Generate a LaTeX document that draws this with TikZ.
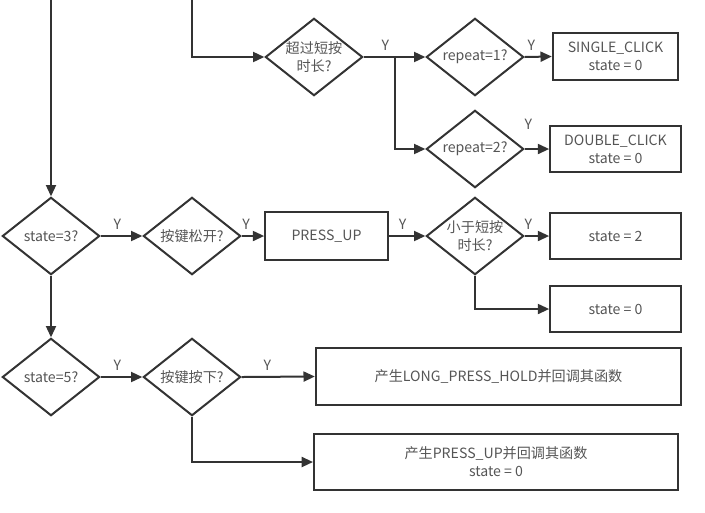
\documentclass[tikz,border=0pt]{standalone}
\usepackage{fontspec}
\setmainfont{Noto Sans CJK SC}
\usetikzlibrary{arrows.meta,shapes.geometric}
\definecolor{linegray}{HTML}{333333}
\definecolor{textgray}{HTML}{555555}
\tikzset{
  cond/.style={draw=linegray, line width=1.5pt, diamond, aspect=1.26, inner sep=0pt,
    minimum width=73pt, minimum height=58pt, text=textgray, align=center},
  act/.style={draw=linegray, line width=1.5pt, rectangle, inner sep=0pt, text=textgray, align=center},
  flow/.style={draw=linegray, line width=1.5pt, -{Triangle[length=8.5pt,width=7.5pt]}},
  yes/.style={text=textgray, above=4pt, inner sep=0pt}
}

\begin{document}
\begin{tikzpicture}[x=0.75pt,y=-0.75pt,font=\fontsize{10.6}{13.5}\selectfont]
\useasboundingbox (0,0) rectangle (705,512);
% decisions
\node[cond] (longq) at (314,57) {超过短按\\时长?};
\node[cond] (rep1) at (475,57) {repeat=1?};
\node[cond] (rep2) at (475,149) {repeat=2?};
\node[cond] (s3) at (51,236) {state=3?};
\node[cond] (rel) at (192,236) {按键松开?};
\node[cond] (shortq) at (475,236) {小于短按\\时长?};
\node[cond] (s5) at (51,377) {state=5?};
\node[cond] (press) at (192,377) {按键按下?};
% actions
\node[act, minimum width=94pt, minimum height=35pt] (single) at (615.5,56.5) {SINGLE\_CLICK\\state = 0};
\node[act, minimum width=98pt, minimum height=34.5pt] (double) at (615.5,149) {DOUBLE\_CLICK\\state = 0};
\node[act, minimum width=92pt, minimum height=36pt] (pup) at (326.5,236) {PRESS\_UP};
\node[act, minimum width=98pt, minimum height=34.5pt] (st2) at (615.5,236) {state = 2};
\node[act, minimum width=98pt, minimum height=34.5pt] (st0) at (615.5,309) {state = 0};
\node[act, minimum width=274pt, minimum height=43pt] (hold) at (498.5,376.5) {产生LONG\_PRESS\_HOLD并回调其函数};
\node[act, minimum width=273pt, minimum height=42pt] (upcb) at (496,462) {产生PRESS\_UP并回调其函数\\state = 0};
% free ends
\coordinate (topL) at (51,0);
\coordinate (topM) at (192,0);
\coordinate (br) at (395,57);
% connectors
\draw[flow] (topL) -- (s3.north);
\draw[flow] (topM) |- (longq.west);
\draw[flow] (longq.east) -- node[yes, pos=0.35] {Y} (rep1.west);
\draw[flow] (br) |- (rep2.west);
\draw[flow] (rep1.east) -- node[yes, pos=0.25] {Y} (single.west);
\draw[flow] (rep2.east) -- node[yes, above=10pt, pos=0.15] {Y} (double.west);
\draw[flow] (s3.east) -- node[yes, pos=0.4] {Y} (rel.west);
\draw[flow] (rel.east) -- node[yes, pos=0.2] {Y} (pup.west);
\draw[flow] (pup.east) -- node[yes, pos=0.38] {Y} (shortq.west);
\draw[flow] (shortq.east) -- node[yes, pos=0.15] {Y} (st2.west);
\draw[flow] (shortq.south) |- (st0.west);
\draw[flow] (s3.south) -- (s5.north);
\draw[flow] (s5.east) -- node[yes, pos=0.4] {Y} (press.west);
\draw[flow] (press.east) -- node[yes, pos=0.35] {Y} (hold.west);
\draw[flow] (press.south) |- (upcb.west);
\end{tikzpicture}
\end{document}
